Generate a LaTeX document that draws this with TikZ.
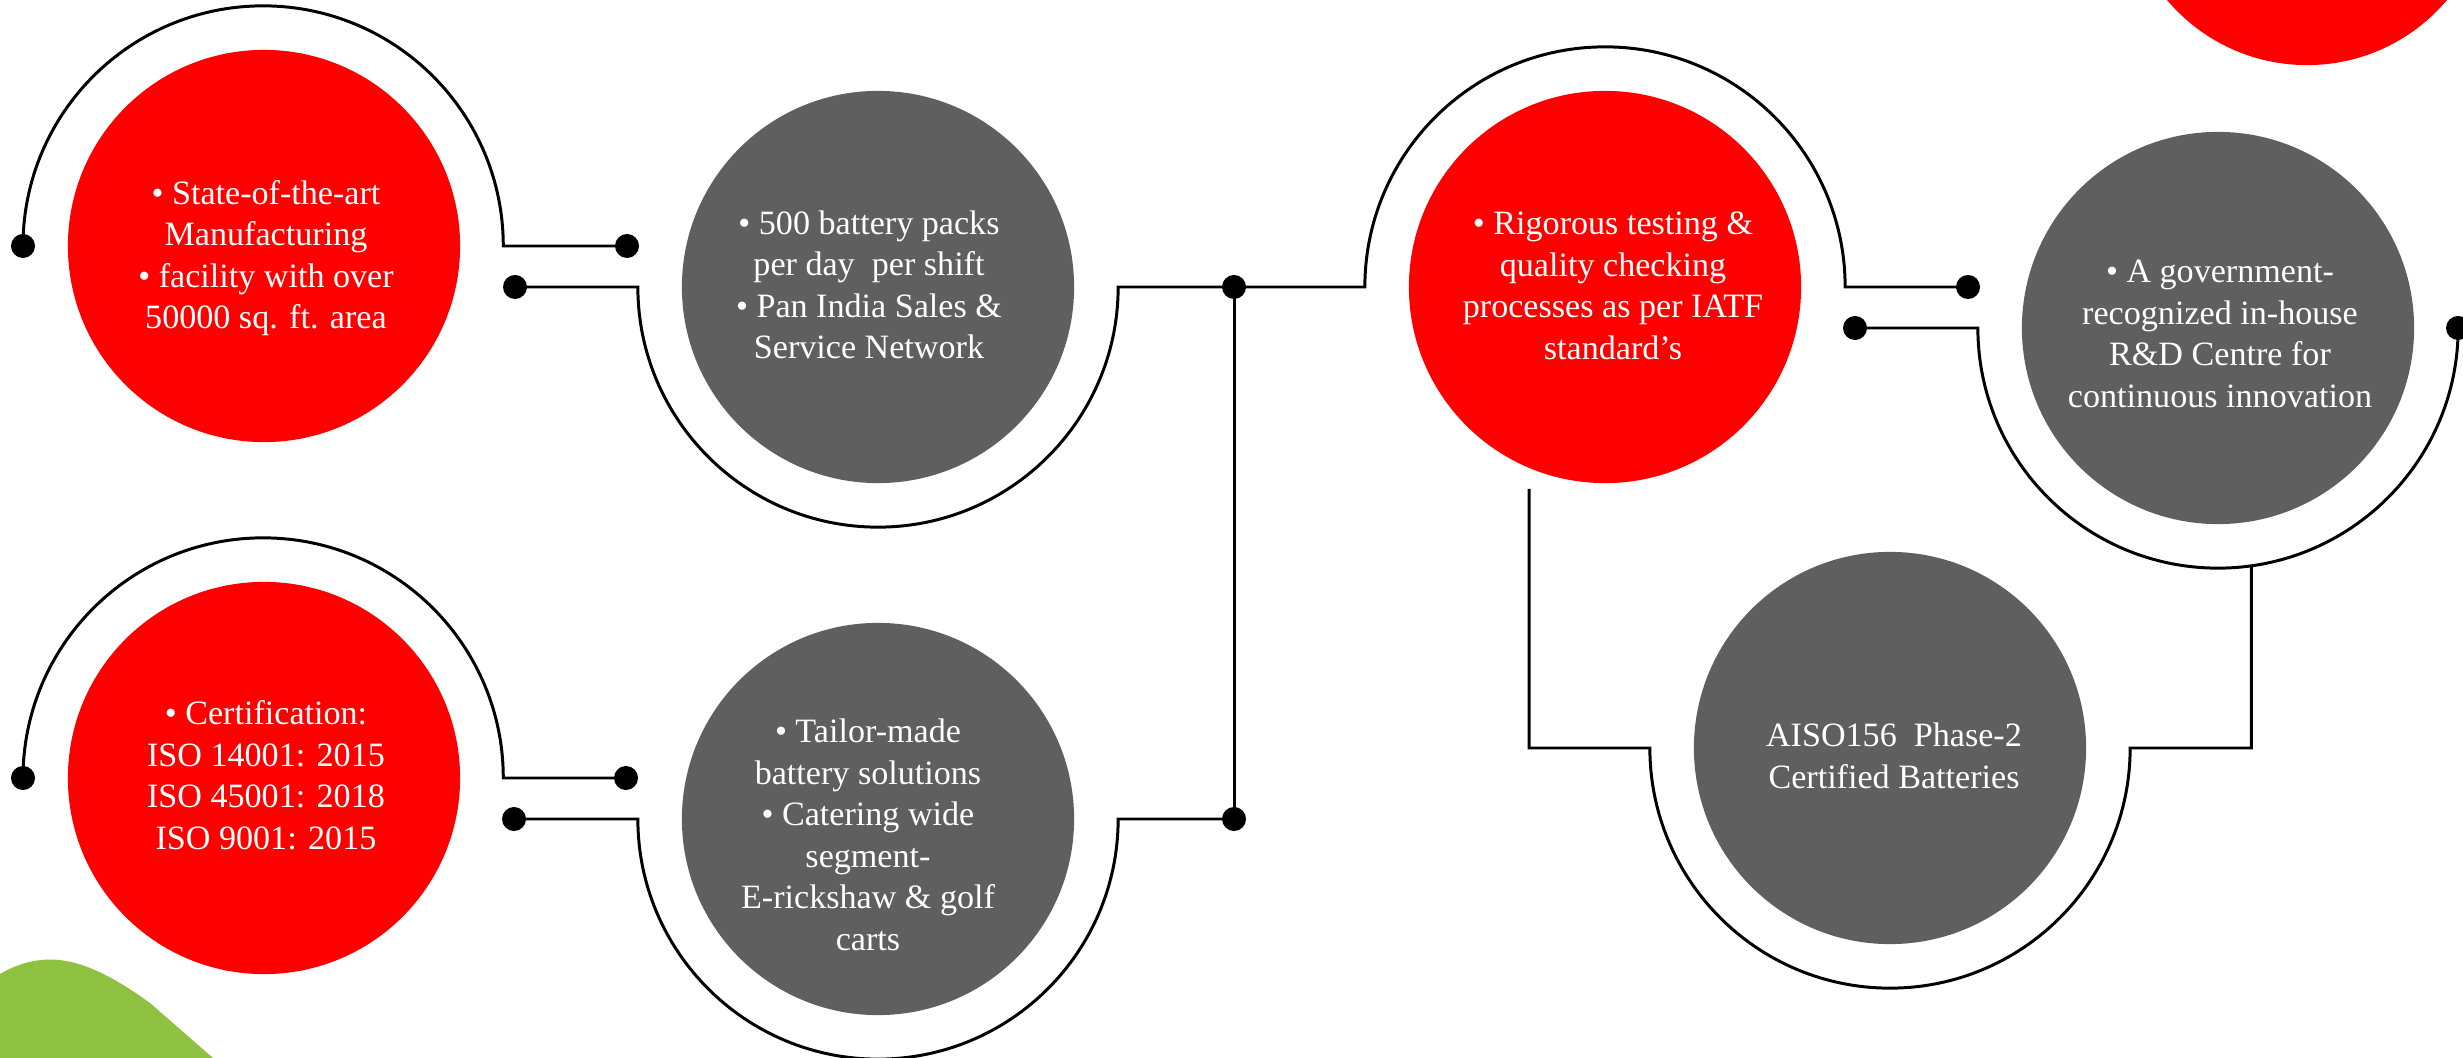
\documentclass[tikz,border=0pt]{standalone}
\usepackage{fontspec}
\setmainfont{Liberation Serif}
\definecolor{cred}{HTML}{FF0000}
\definecolor{cgray}{HTML}{5F5F5F}
\definecolor{cgreen}{HTML}{8DC13F}
\begin{document}
\begin{tikzpicture}[x=0.01cm,y=-0.01cm,
  bubble/.style={circle,minimum size=3.92cm,inner sep=0pt},
  redb/.style={bubble,fill=cred},
  grayb/.style={bubble,fill=cgray},
  txt/.style={text=white,align=center,inner sep=0pt,font=\fontsize{9.7}{11.8}\selectfont},
  dotn/.style={circle,fill=black,minimum size=0.24cm,inner sep=0pt},
  wire/.style={line width=0.85pt,draw=black},
]
\useasboundingbox (0,0) rectangle (2463,1058);
\clip (0,0) rectangle (2463,1058);
% decorative blobs
\fill[cred] (2307,-118) circle[radius=1.83cm];
\fill[cgreen] (0,974) .. controls (22,961) and (45,957) .. (66,961) .. controls (95,966) and (125,985) .. (150,1003) -- (213,1058) -- (0,1058) -- cycle;
% bubbles
\node[redb] (r1) at (264,246) {};
\node[grayb] (g2) at (878,287) {};
\node[redb] (r3) at (1605,287) {};
\node[grayb] (g5) at (2218,328) {};
\node[redb] (r1b) at (264,778) {};
\node[grayb] (g2b) at (878,819) {};
\node[grayb] (g4) at (1890,748) {};
% texts
\node[txt] (t1) at (266,258) {• State-of-the-art\\Manufacturing\\• facility with over\\50000 sq. ft. area};
\node[txt] (t2) at (869,285) {• 500 battery packs\\per day\ \ per shift\\• Pan India Sales \&\\Service Network};
\node[txt] (t3) at (1613,286) {• Rigorous testing \&\\quality checking\\processes as per IATF\\standard’s};
\node[txt] (t5) at (2220,334) {• A government-\\recognized in-house\\R\&D Centre for\\continuous innovation};
\node[txt] (t1b) at (266,775) {• Certification:\\ISO 14001: 2015\\ISO 45001: 2018\\ISO 9001: 2015};
\node[txt] (t2b) at (868,835) {• Tailor-made\\battery solutions\\• Catering wide\\segment-\\E-rickshaw \& golf\\carts};
\node[txt] (t4) at (1894,756) {AISO156\ \ Phase-2\\Certified Batteries};
% dots
\node[dotn] (d1) at (23,246) {};
\node[dotn] (d2) at (627,246) {};
\node[dotn] (d3) at (515,287) {};
\node[dotn] (j1) at (1234,287) {};
\node[dotn] (d5) at (1968,287) {};
\node[dotn] (d6) at (1855,328) {};
\node[dotn] (d7) at (2458,328) {};
\node[dotn] (d8) at (23,778) {};
\node[dotn] (d9) at (626,778) {};
\node[dotn] (d10) at (514,819) {};
\node[dotn] (j2) at (1234,819) {};
\coordinate (v0) at (1529,489);
% wires
\draw[wire] (d1.center) arc[start angle=180,end angle=0,radius=2.4cm] -- (d2.center);
\draw[wire] (d3.center) -- ([xshift=-2.4cm]g2.center) arc[start angle=180,end angle=360,radius=2.4cm]
  -- ([xshift=-2.4cm]r3.center) arc[start angle=180,end angle=0,radius=2.4cm] -- (d5.center);
\draw[wire] (d6.center) -- ([xshift=-2.4cm]g5.center) arc[start angle=180,end angle=360,radius=2.4cm];
\draw[wire] (d8.center) arc[start angle=180,end angle=0,radius=2.4cm] -- (d9.center);
\draw[wire] (d10.center) -- ([xshift=-2.4cm]g2b.center) arc[start angle=180,end angle=360,radius=2.4cm] -- (j2.center);
\draw[wire] (j1.center) -- (j2.center);
\draw[wire] (v0) |- ([xshift=-2.4cm]g4.center) arc[start angle=180,end angle=360,radius=2.4cm]
  -| ([shift={(-82:2.4cm)}]g5.center);
\end{tikzpicture}
\end{document}
